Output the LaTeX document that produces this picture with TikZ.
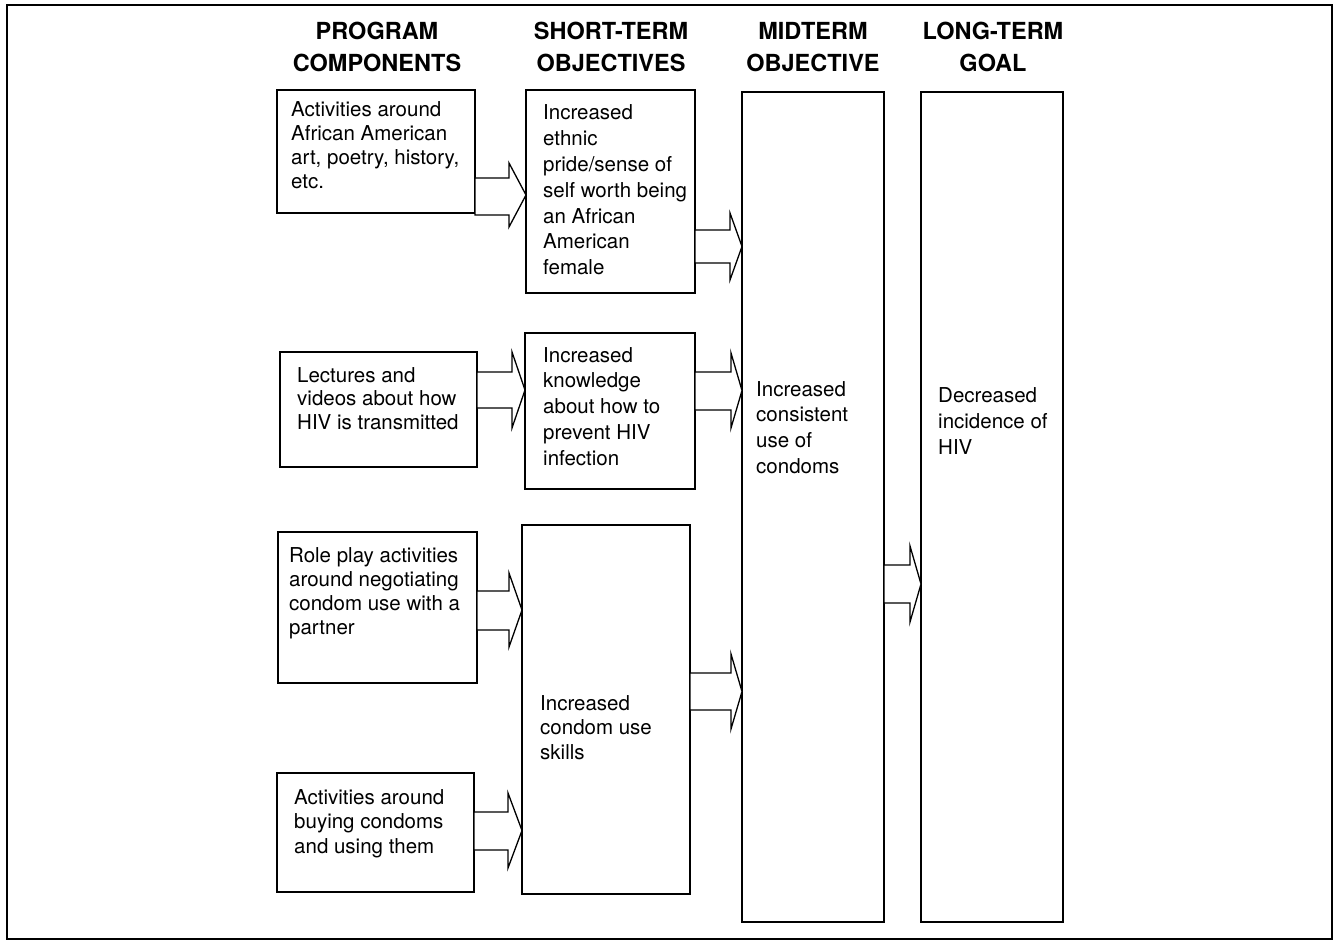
\documentclass[tikz,border=0pt]{standalone}
\usepackage{fontspec}
\setmainfont{TeX Gyre Heros}
\usetikzlibrary{calc}
\newcommand{\stackL}[2]{\vtop{\baselineskip=#1\relax\lineskiplimit=-\maxdimen\halign{##\hfil\cr#2\crcr}}}
\newcommand{\stackC}[2]{\vtop{\baselineskip=#1\relax\lineskiplimit=-\maxdimen\halign{\hfil##\hfil\cr#2\crcr}}}
% block arrow: source, target, shaft top, shaft bottom, head top, head bottom, head length
\newcommand{\barrow}[7]{%
  \draw[blockarr] (#1.east |- 0,#3) -- ($(#2.west |- 0,#3)+(-#7,0)$) -- ($(#2.west |- 0,#5)+(-#7,0)$)
    -- (#2.west |- 0,{(#5+#6)/2}) -- ($(#2.west |- 0,#6)+(-#7,0)$) -- ($(#2.west |- 0,#4)+(-#7,0)$)
    -- (#1.east |- 0,#4) -- cycle;}
\begin{document}
\begin{tikzpicture}[x=1pt,y=-1pt,
  box/.style={draw, line width=1.3pt, inner sep=0pt, outer sep=0pt},
  blockarr/.style={draw, fill=white, line width=1.3pt, line join=miter},
  body/.style={anchor=base west, inner sep=0pt, font=\fontsize{20.5}{24}\selectfont},
  head/.style={anchor=base, inner sep=0pt, font=\fontsize{23.5}{32}\selectfont\bfseries}]
\useasboundingbox (0,0) rectangle (1338,941);
\draw[line width=1.5pt] (7,5) rectangle (1332,939);

% headers
\node[head] (h1) at (377,40) {\stackC{31.5pt}{PROGRAM\cr COMPONENTS}};
\node[head] (h2) at (611,40) {\stackC{31.5pt}{SHORT-TERM\cr OBJECTIVES}};
\node[head] (h3) at (813,40) {\stackC{31.5pt}{MIDTERM\cr OBJECTIVE}};
\node[head] (h4) at (993,40) {\stackC{31.5pt}{LONG-TERM\cr GOAL}};

% boxes
\node[box, minimum width=198pt, minimum height=123pt] (b1) at (376,151.5) {};
\node[box, minimum width=197pt, minimum height=115pt] (b2) at (378.5,409.5) {};
\node[box, minimum width=199pt, minimum height=151pt] (b3) at (377.5,607.5) {};
\node[box, minimum width=197pt, minimum height=119pt] (b4) at (375.5,832.5) {};
\node[box, minimum width=169pt, minimum height=203pt] (s1) at (610.5,191.5) {};
\node[box, minimum width=170pt, minimum height=156pt] (s2) at (610,411) {};
\node[box, minimum width=168pt, minimum height=369pt] (s3) at (606,709.5) {};
\node[box, minimum width=142pt, minimum height=830pt] (mid) at (813,507) {};
\node[box, minimum width=142pt, minimum height=830pt] (long) at (992,507) {};

% texts
\node[body] (t1) at (291,117) {\stackL{24pt}{Activities around\cr African American\cr art, poetry, history,\cr etc.}};
\node[body] (t2) at (297,382) {\stackL{23.5pt}{Lectures and\cr videos about how\cr HIV is transmitted}};
\node[body] (t3) at (289,562) {\stackL{24pt}{Role play activities\cr around negotiating\cr condom use with a\cr partner}};
\node[body] (t4) at (294,804) {\stackL{24.5pt}{Activities around\cr buying condoms\cr and using them}};
\node[body] (u1) at (543,120) {\stackL{25.8pt}{Increased\cr ethnic\cr pride/sense of\cr self worth being\cr an African\cr American\cr female}};
\node[body] (u2) at (543,362) {\stackL{25.8pt}{Increased\cr knowledge\cr about how to\cr prevent HIV\cr infection}};
\node[body] (u3) at (540,710) {\stackL{24.5pt}{Increased\cr condom use\cr skills}};
\node[body] (u4) at (756,396) {\stackL{25.7pt}{Increased\cr consistent\cr use of\cr condoms}};
\node[body] (u5) at (938,402) {\stackL{26.3pt}{Decreased\cr incidence of\cr HIV}};

% block arrows
\barrow{b1}{s1}{178}{215}{163}{227}{17}
\barrow{b2}{s2}{372}{408}{352}{428}{13}
\barrow{b3}{s3}{591}{630}{573}{647}{13}
\barrow{b4}{s3}{812}{850}{793}{868}{14}
\barrow{s1}{mid}{230}{263}{213}{280}{12}
\barrow{s2}{mid}{372}{410}{353}{428}{11}
\barrow{s3}{mid}{673}{710}{654}{729}{11}
\barrow{mid}{long}{565}{603}{546}{622}{11}
\end{tikzpicture}
\end{document}
